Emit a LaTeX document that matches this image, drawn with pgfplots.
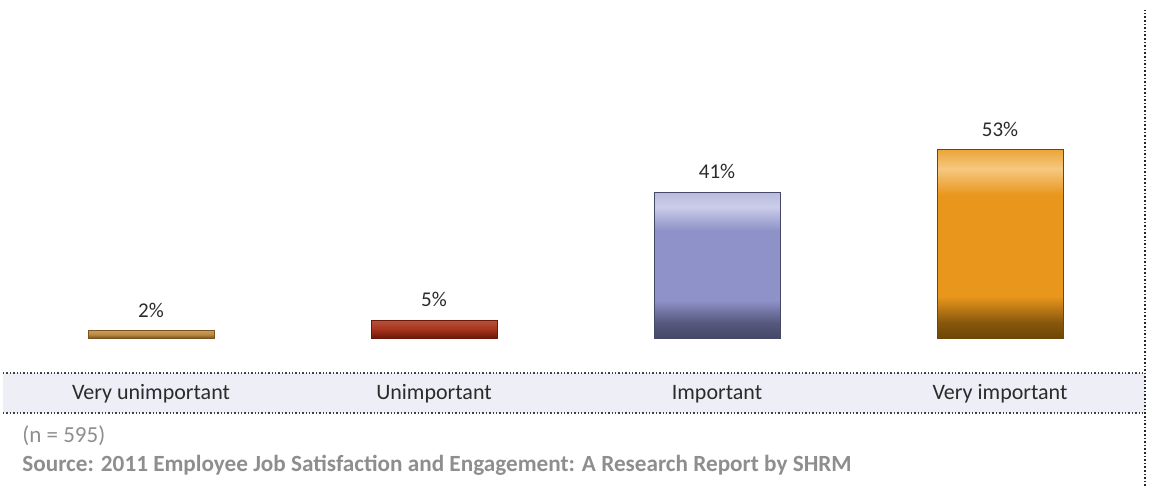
\documentclass[border=0pt]{standalone}
\usepackage{pgfplots}
\pgfplotsset{compat=1.18}
\usepackage{fontspec}
\setmainfont{Carlito}
\definecolor{txt}{HTML}{2B2B2B}
\definecolor{srcgray}{HTML}{8E8E8E}
\definecolor{band}{HTML}{EEEEF6}
% orange
\definecolor{oMain}{HTML}{E8961C}
\definecolor{oDark}{HTML}{6E4608}
\definecolor{oLight}{HTML}{F6C880}
% lavender
\definecolor{lMain}{HTML}{8E92C8}
\definecolor{lDark}{HTML}{464868}
\definecolor{lLight}{HTML}{CBCDE8}
% red
\definecolor{rMain}{HTML}{A8341C}
\definecolor{rDark}{HTML}{6A1808}
% brown
\definecolor{bMain}{HTML}{BC8A40}
\definecolor{bDark}{HTML}{7A5420}
\pgfdeclareverticalshading{orangebar}{100bp}{color(0bp)=(oDark); color(25bp)=(oDark); color(29bp)=(oDark!80!oMain); color(36bp)=(oMain); color(63bp)=(oMain); color(70bp)=(oLight); color(75bp)=(oMain!70!oLight); color(100bp)=(oMain)}
\pgfdeclareverticalshading{lavbar}{100bp}{color(0bp)=(lDark); color(25bp)=(lDark); color(30bp)=(lDark!80!lMain); color(38bp)=(lMain); color(62bp)=(lMain); color(70bp)=(lLight); color(75bp)=(lLight!70!lMain); color(100bp)=(lMain)}
\pgfdeclareverticalshading{redbar}{100bp}{color(0bp)=(rDark); color(25bp)=(rDark); color(50bp)=(rMain); color(75bp)=(rMain!85!white); color(100bp)=(rMain)}
\pgfdeclareverticalshading{brownbar}{100bp}{color(0bp)=(bDark); color(25bp)=(bDark); color(50bp)=(bMain); color(75bp)=(bMain!85!white); color(100bp)=(bMain)}
\begin{document}
\begin{tikzpicture}[x=1pt,y=1pt]
\path (0,0) rectangle (574.5,243);
% category band
\fill[band] (1.5,36.5) rectangle (572.5,56.5);
\draw[densely dotted, line width=0.7pt, black!75] (1.5,56.5) -- (572.5,56.5);
\draw[densely dotted, line width=0.7pt, black!75] (1.5,36.5) -- (572.5,36.5);
\draw[densely dotted, line width=0.8pt, black!85] (572.5,0) -- (572.5,238);
\begin{axis}[
  at={(4.75pt,74pt)}, anchor=south west,
  scale only axis, width=566pt, height=169pt,
  xmin=-0.5, xmax=3.5, ymin=0, ymax=95.2,
  axis lines=none, clip=false,
  ybar, bar width=63pt, bar shift=0pt,
  xtick=\empty, ytick=\empty,
  /pgf/number format/assume math mode=true,
  nodes near coords={\pgfmathprintnumber{\pgfplotspointmeta}\%},
  every node near coord/.append style={font=\fontsize{10.5}{12}\selectfont, text=txt, anchor=south, inner sep=0pt, yshift=6.5pt},
]
\addplot[draw=bDark, line width=0.4pt, shading=brownbar] coordinates {(0,2)};
\addplot[draw=rDark, line width=0.4pt, shading=redbar] coordinates {(1,5)};
\addplot[draw=lDark, line width=0.4pt, shading=lavbar] coordinates {(2,41)};
\addplot[draw=oDark, line width=0.4pt, shading=orangebar] coordinates {(3,53)};
\end{axis}
% category labels
\foreach \xx/\lab in {75.5/Very unimportant, 217/Unimportant, 358.5/Important, 500/Very important}
  \node[font=\fontsize{11}{13}\selectfont, text=txt, anchor=center] at (\xx,46) {\lab};
\node[font=\fontsize{11.5}{13}\selectfont, text=srcgray, anchor=base west, inner sep=0pt] at (11,21.5) {(n = 595)};
\node[font=\fontsize{11.6}{13}\selectfont\bfseries, text=srcgray, anchor=base west, inner sep=0pt] at (11,7.5) {Source: 2011 Employee Job Satisfaction and Engagement: A Research Report by SHRM};
\end{tikzpicture}
\end{document}
